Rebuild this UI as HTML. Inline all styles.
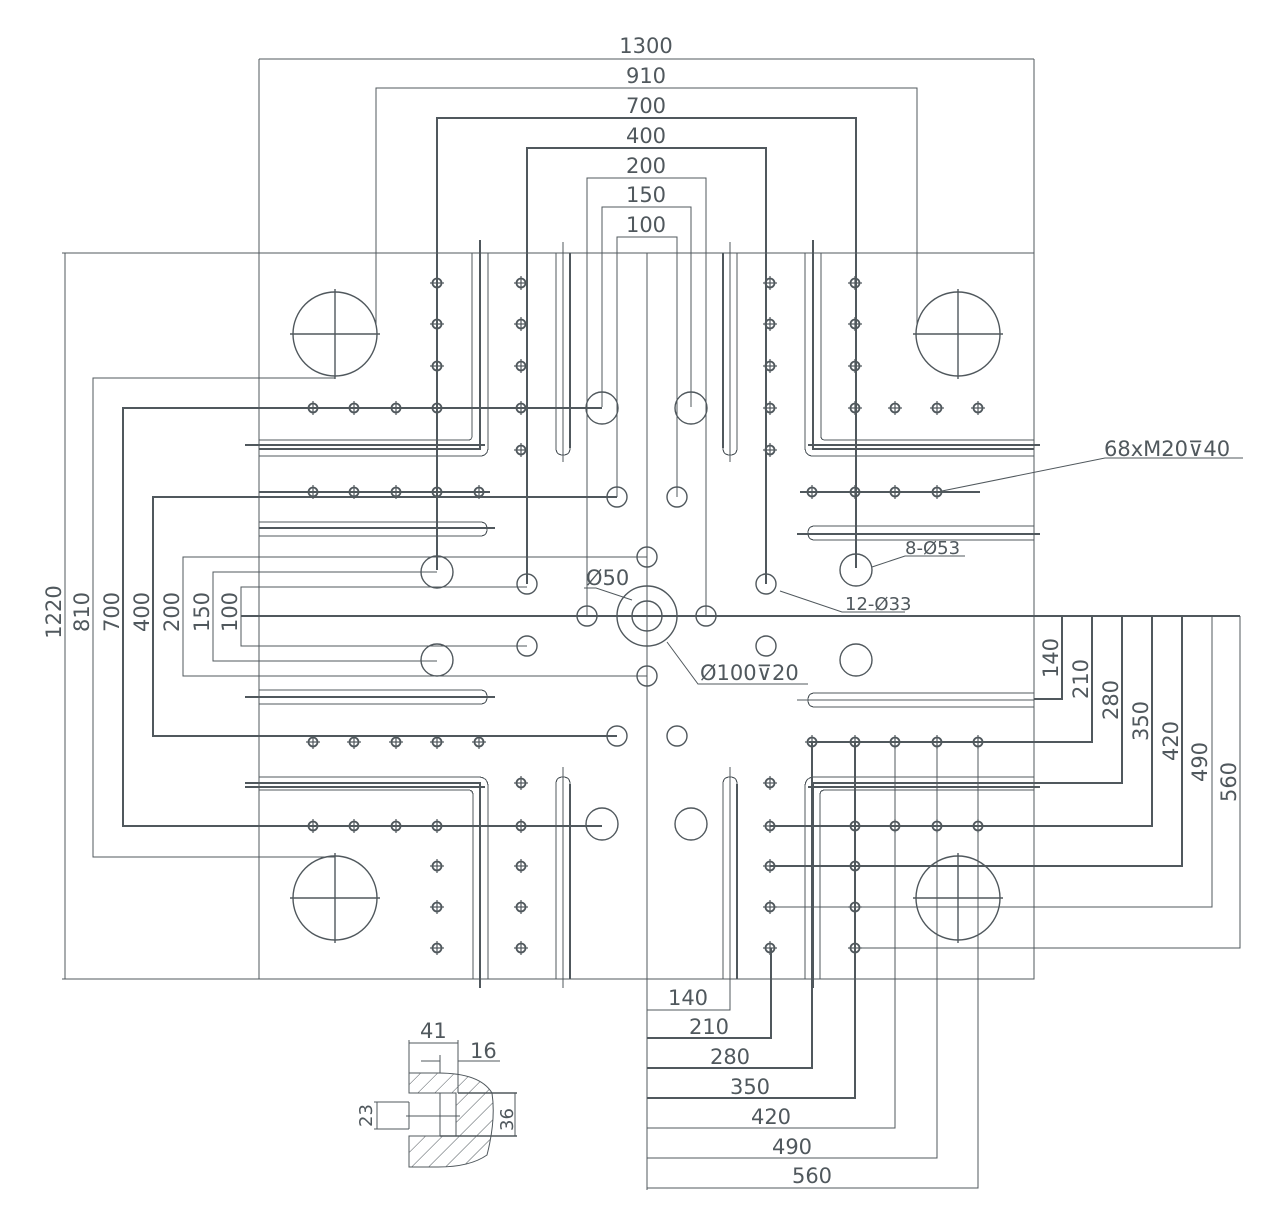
<!DOCTYPE html>
<html><head><meta charset="utf-8"><style>
html,body{margin:0;padding:0;background:#fff}
svg{display:block}
text{font-family:"DejaVu Sans","Liberation Sans",sans-serif;fill:#50585d;font-size:21px}
</style></head><body>
<svg width="1278" height="1223" viewBox="0 0 1278 1223" xmlns="http://www.w3.org/2000/svg">
<defs>
<g id="h"><circle r="4.5" fill="none" stroke="#50585d" stroke-width="1.8"/><line x1="-7" y1="0" x2="7" y2="0" stroke="#50585d" stroke-width="1.2"/><line x1="0" y1="-7" x2="0" y2="7" stroke="#50585d" stroke-width="1.2"/></g>
<pattern id="hatch" width="12" height="12" patternUnits="userSpaceOnUse" patternTransform="rotate(45)"><line x1="0" y1="0" x2="0" y2="12" stroke="#50585d" stroke-width="1"/></pattern>
</defs>
<g stroke="#50585d" fill="none" stroke-width="1" shape-rendering="crispEdges">
<rect x="259" y="253" width="775" height="726"/>
<line x1="62" y1="253" x2="259" y2="253"/>
<line x1="62" y1="979" x2="259" y2="979"/>
<line x1="259" y1="59" x2="259" y2="253"/>
<line x1="1034" y1="59" x2="1034" y2="253"/>
<line x1="259" y1="59" x2="1034" y2="59"/>
<g stroke-width="2">
<polyline points="376,325 376,88 917,88 917,325" stroke-width="1"/>
<polyline points="437,570 437,118 856,118 856,568"/>
<polyline points="527,584 527,148 766,148 766,584"/>
<polyline points="587,616 587,178 706,178 706,616" stroke-width="1"/>
<polyline points="602,407 602,207 691,207 691,407" stroke-width="1"/>
<polyline points="617,497 617,237 677,237 677,497" stroke-width="1"/>
</g>
<line x1="65" y1="253" x2="65" y2="979"/>
<g stroke-width="2">
<polyline points="335,378 93,378 93,857 335,857" stroke-width="1"/>
<polyline points="602,408 123,408 123,826 602,826"/>
<polyline points="617,497 153,497 153,736 617,736"/>
<polyline points="647,557 183,557 183,676 647,676" stroke-width="1"/>
<polyline points="437,572 213,572 213,661 437,661" stroke-width="1"/>
<polyline points="527,587 241,587 241,646 527,646" stroke-width="1"/>
</g>
<line x1="241" y1="616" x2="1240" y2="616" stroke-width="2"/>
<line x1="647" y1="253" x2="647" y2="1190" stroke-width="1.2"/>
<g stroke-width="2">
<polyline points="1034,699 1062,699 1062,616"/>
<polyline points="809,742 1092,742 1092,616"/>
<polyline points="812,783 1122,783 1122,616"/>
<polyline points="770,826 1152,826 1152,616"/>
<polyline points="770,866 1182,866 1182,616"/>
<polyline points="770,907 1212,907 1212,616" stroke-width="1"/>
<polyline points="855,948 1240,948 1240,616" stroke-width="1"/>
</g>
<g stroke-width="2">
<polyline points="730,979 730,1010 647,1010" stroke-width="1"/>
<polyline points="771,948 771,1038 647,1038"/>
<polyline points="812,742 812,1068 647,1068"/>
<polyline points="855,742 855,1098 647,1098"/>
<polyline points="895,742 895,1128 647,1128" stroke-width="1"/>
<polyline points="937,742 937,1158 647,1158" stroke-width="1"/>
<polyline points="978,742 978,1188 647,1188" stroke-width="1"/>
</g>
<g stroke-width="2">
<line x1="245" y1="445" x2="485" y2="445"/>
<line x1="808" y1="445" x2="1040" y2="445"/>
<line x1="245" y1="787" x2="485" y2="787"/>
<line x1="808" y1="787" x2="1040" y2="787"/>
<line x1="259" y1="492" x2="490" y2="492" stroke-width="1.6"/>
<line x1="800" y1="492" x2="980" y2="492" stroke-width="1.6"/>
</g>
<path d="M472,253 V436 Q472,440 468,440 H259" stroke-width="1"/>
<path d="M480,240 V449 H259" stroke-width="2"/>
<path d="M488,253 V447 Q488,456 480,456 H259" stroke-width="1"/>
<path d="M821,253 V436 Q821,440 825,440 H1034" stroke-width="1"/>
<path d="M813,240 V449 H1034" stroke-width="2"/>
<path d="M805,253 V447 Q805,456 813,456 H1034" stroke-width="1"/>
<path d="M259,777 H478 Q488,777 488,787 V979" stroke-width="1"/>
<path d="M245,783 H480 V988" stroke-width="2"/>
<path d="M259,790 H468 Q473,790 473,795 V979" stroke-width="1"/>
<path d="M1034,777 H815 Q805,777 805,787 V979" stroke-width="1"/>
<path d="M1040,783 H813 V988" stroke-width="2"/>
<path d="M1034,790 H825 Q820,790 820,795 V979" stroke-width="1"/>
<path d="M259,522 H480 Q487,522 487,529 Q487,536 480,536 H259" stroke-width="1"/>
<line x1="259" y1="528" x2="495" y2="528" stroke-width="2"/>
<path d="M259,690 H480 Q487,690 487,697 Q487,704 480,704 H259" stroke-width="1"/>
<line x1="245" y1="697" x2="495" y2="697" stroke-width="2"/>
<path d="M1034,526 H815 Q808,526 808,533 Q808,540 815,540 H1034" stroke-width="1"/>
<line x1="797" y1="534" x2="1040" y2="534" stroke-width="2"/>
<path d="M1034,693 H815 Q808,693 808,700 Q808,707 815,707 H1034" stroke-width="1"/>
<line x1="797" y1="700" x2="1034" y2="700" stroke-width="1"/>
<path d="M556,253 V448 Q556,455 563,455 Q570,455 570,448 V253" stroke-width="1"/>
<line x1="563" y1="242" x2="563" y2="462" stroke-width="1"/>
<line x1="570" y1="253" x2="570" y2="448" stroke-width="2"/>
<path d="M723,253 V448 Q723,455 730,455 Q737,455 737,448 V253" stroke-width="1"/>
<line x1="730" y1="242" x2="730" y2="462" stroke-width="1"/>
<line x1="723" y1="253" x2="723" y2="448" stroke-width="2"/>
<path d="M556,979 V784 Q556,777 563,777 Q570,777 570,784 V979" stroke-width="1"/>
<line x1="563" y1="767" x2="563" y2="988" stroke-width="1"/>
<line x1="570" y1="784" x2="570" y2="979" stroke-width="2"/>
<path d="M723,979 V784 Q723,777 730,777 Q737,777 737,784 V979" stroke-width="1"/>
<line x1="730" y1="767" x2="730" y2="988" stroke-width="1"/>
<line x1="737" y1="784" x2="737" y2="979" stroke-width="2"/>
</g>
<g stroke="#50585d" fill="none" stroke-width="1.4">
<circle cx="335" cy="334" r="42"/><line x1="290" y1="334" x2="380" y2="334"/><line x1="335" y1="289" x2="335" y2="379"/>
<circle cx="958" cy="334" r="42"/><line x1="913" y1="334" x2="1003" y2="334"/><line x1="958" y1="289" x2="958" y2="379"/>
<circle cx="335" cy="898" r="42"/><line x1="290" y1="898" x2="380" y2="898"/><line x1="335" y1="853" x2="335" y2="943"/>
<circle cx="958" cy="898" r="42"/><line x1="913" y1="898" x2="1003" y2="898"/><line x1="958" y1="853" x2="958" y2="943"/>
<circle cx="437" cy="572" r="16"/><circle cx="856" cy="570" r="16"/>
<circle cx="602" cy="408" r="16"/><circle cx="691" cy="408" r="16"/>
<circle cx="602" cy="824" r="16"/><circle cx="691" cy="824" r="16"/>
<circle cx="437" cy="660" r="16"/><circle cx="856" cy="660" r="16"/>
<circle cx="617" cy="497" r="10"/><circle cx="677" cy="497" r="10"/>
<circle cx="527" cy="584" r="10"/><circle cx="766" cy="584" r="10"/>
<circle cx="527" cy="646" r="10"/><circle cx="766" cy="646" r="10"/>
<circle cx="587" cy="616" r="10"/><circle cx="706" cy="616" r="10"/>
<circle cx="647" cy="557" r="10"/><circle cx="647" cy="676" r="10"/>
<circle cx="617" cy="736" r="10"/><circle cx="677" cy="736" r="10"/>
<circle cx="647" cy="616" r="30"/><circle cx="647" cy="616" r="15"/>
</g>
<g stroke="#50585d" fill="none" stroke-width="1">
<polyline points="1243,458 1105,458 937,492"/>
<polyline points="965,556 905,556 872,567"/>
<polyline points="905,612 842,612 780,591"/>
<polyline points="584,588 596,588 632,600"/>
<polyline points="808,684 698,684 667,642"/>
</g>
<g>
<use href="#h" x="437" y="283"/><use href="#h" x="437" y="324"/><use href="#h" x="437" y="366"/><use href="#h" x="437" y="408"/>
<use href="#h" x="521" y="283"/><use href="#h" x="521" y="324"/><use href="#h" x="521" y="366"/><use href="#h" x="521" y="408"/><use href="#h" x="521" y="450"/>
<use href="#h" x="313" y="408"/><use href="#h" x="354" y="408"/><use href="#h" x="396" y="408"/>
<use href="#h" x="313" y="492"/><use href="#h" x="354" y="492"/><use href="#h" x="396" y="492"/><use href="#h" x="437" y="492"/><use href="#h" x="479" y="492"/>
<use href="#h" x="770" y="283"/><use href="#h" x="770" y="324"/><use href="#h" x="770" y="366"/><use href="#h" x="770" y="408"/><use href="#h" x="770" y="450"/>
<use href="#h" x="855" y="283"/><use href="#h" x="855" y="324"/><use href="#h" x="855" y="366"/><use href="#h" x="855" y="408"/>
<use href="#h" x="895" y="408"/><use href="#h" x="937" y="408"/><use href="#h" x="978" y="408"/>
<use href="#h" x="812" y="492"/><use href="#h" x="855" y="492"/><use href="#h" x="895" y="492"/><use href="#h" x="937" y="492"/>
<use href="#h" x="313" y="742"/><use href="#h" x="354" y="742"/><use href="#h" x="396" y="742"/><use href="#h" x="437" y="742"/><use href="#h" x="479" y="742"/>
<use href="#h" x="313" y="826"/><use href="#h" x="354" y="826"/><use href="#h" x="396" y="826"/><use href="#h" x="437" y="826"/><use href="#h" x="521" y="826"/>
<use href="#h" x="437" y="866"/><use href="#h" x="437" y="907"/><use href="#h" x="437" y="948"/>
<use href="#h" x="521" y="783"/><use href="#h" x="521" y="866"/><use href="#h" x="521" y="907"/><use href="#h" x="521" y="948"/>
<use href="#h" x="812" y="742"/><use href="#h" x="855" y="742"/><use href="#h" x="895" y="742"/><use href="#h" x="937" y="742"/><use href="#h" x="978" y="742"/>
<use href="#h" x="770" y="826"/><use href="#h" x="855" y="826"/><use href="#h" x="895" y="826"/><use href="#h" x="937" y="826"/><use href="#h" x="978" y="826"/>
<use href="#h" x="770" y="783"/><use href="#h" x="770" y="866"/><use href="#h" x="770" y="907"/><use href="#h" x="770" y="948"/>
<use href="#h" x="855" y="866"/><use href="#h" x="855" y="907"/><use href="#h" x="855" y="948"/>
</g>
<g text-anchor="middle">
<text x="646" y="53">1300</text>
<text x="646" y="83">910</text>
<text x="646" y="113">700</text>
<text x="646" y="143">400</text>
<text x="646" y="173">200</text>
<text x="646" y="202">150</text>
<text x="646" y="232">100</text>
<text transform="translate(61,612) rotate(-90)">1220</text>
<text transform="translate(89,612) rotate(-90)">810</text>
<text transform="translate(119,612) rotate(-90)">700</text>
<text transform="translate(149,612) rotate(-90)">400</text>
<text transform="translate(179,612) rotate(-90)">200</text>
<text transform="translate(209,612) rotate(-90)">150</text>
<text transform="translate(237,612) rotate(-90)">100</text>
<text transform="translate(1058,658) rotate(-90)">140</text>
<text transform="translate(1088,679) rotate(-90)">210</text>
<text transform="translate(1118,700) rotate(-90)">280</text>
<text transform="translate(1148,721) rotate(-90)">350</text>
<text transform="translate(1178,741) rotate(-90)">420</text>
<text transform="translate(1207,762) rotate(-90)">490</text>
<text transform="translate(1236,782) rotate(-90)">560</text>
<text x="688" y="1005">140</text>
<text x="709" y="1034">210</text>
<text x="730" y="1064">280</text>
<text x="750" y="1094">350</text>
<text x="771" y="1124">420</text>
<text x="792" y="1154">490</text>
<text x="812" y="1183">560</text>
</g>
<text x="1104" y="456">68xM20⊽40</text>
<text x="905" y="554" style="font-size:18px">8-Ø53</text>
<text x="845" y="610" style="font-size:18px">12-Ø33</text>
<text x="586" y="585">Ø50</text>
<text x="700" y="680">Ø100⊽20</text>
<g stroke="#50585d" fill="none" stroke-width="1">
<path d="M409,1073 H438 Q480,1073 492,1093 Q496,1120 487,1155 Q470,1167 438,1167 H409 V1136 H440 V1093 H409 Z" fill="url(#hatch)"/>
<path d="M440,1093 H456 V1136 H440 Z" fill="#fff"/>
<line x1="374" y1="1102" x2="409" y2="1102"/>
<line x1="374" y1="1129" x2="409" y2="1129"/>
<line x1="409" y1="1102" x2="409" y2="1129"/>
<line x1="406" y1="1116" x2="460" y2="1116"/>
<line x1="458" y1="1093" x2="517" y2="1093" stroke-width="1.5"/>
<line x1="440" y1="1136" x2="517" y2="1136" stroke-width="1.5"/>
<line x1="515" y1="1093" x2="515" y2="1136"/>
<line x1="377" y1="1102" x2="377" y2="1129"/>
<line x1="409" y1="1040" x2="409" y2="1073"/>
<line x1="458" y1="1040" x2="458" y2="1093"/>
<line x1="409" y1="1043" x2="458" y2="1043"/>
<line x1="421" y1="1061" x2="440" y2="1061"/>
<line x1="458" y1="1061" x2="500" y2="1061"/>
<line x1="440" y1="1055" x2="440" y2="1073"/>
</g>
<text x="420" y="1038">41</text>
<text x="470" y="1058">16</text>
<text transform="translate(372,1127) rotate(-90)" style="font-size:18px">23</text>
<text transform="translate(513,1131) rotate(-90)" style="font-size:18px">36</text>
</svg>
</body></html>
